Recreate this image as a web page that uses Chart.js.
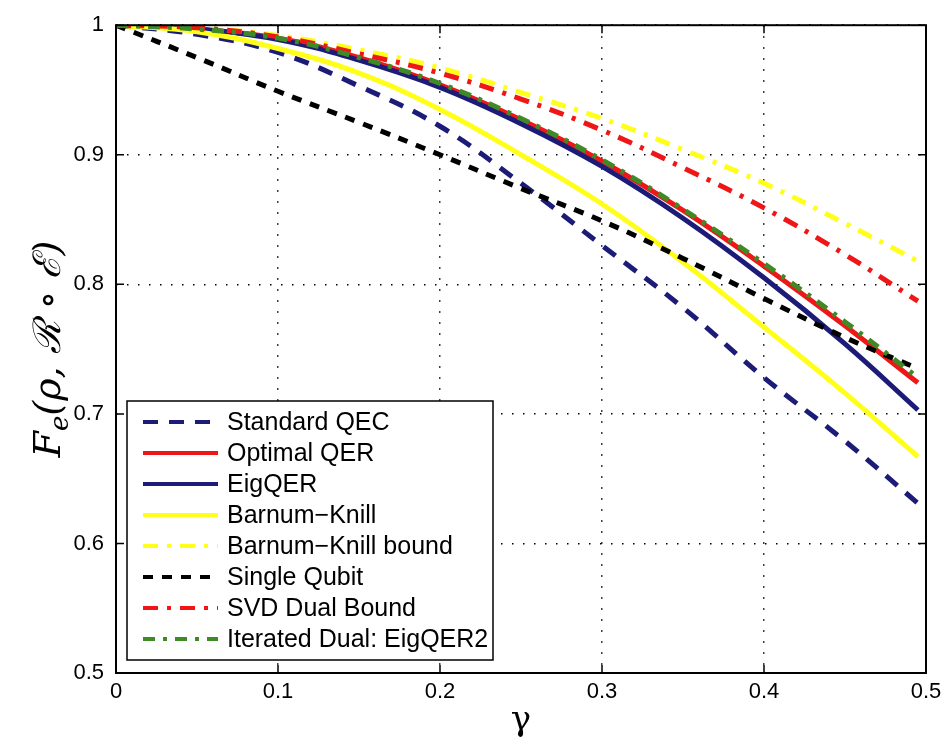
<!DOCTYPE html>
<html>
<head>
<meta charset="utf-8">
<script src="https://cdn.jsdelivr.net/npm/chart.js@4.4.1/dist/chart.umd.min.js"></script>
<style>
  html, body { margin: 0; padding: 0; background: #fff; }
  #wrap { width: 952px; height: 744px; }
</style>
</head>
<body>
<div id="wrap"><canvas id="c" width="952" height="744"></canvas></div>
<script>
// gamma values (x axis)
var gamma = [0, 0.05, 0.1, 0.15, 0.2, 0.25, 0.3, 0.35, 0.4, 0.45, 0.495];

// fidelity per method
var standardQEC   = [1, 0.993, 0.979, 0.953, 0.922, 0.878, 0.830, 0.782, 0.728, 0.679, 0.631];
var optimalQER    = [1, 0.997, 0.990, 0.975, 0.954, 0.927, 0.895, 0.857, 0.814, 0.768, 0.724];
var eigQER        = [1, 0.997, 0.989, 0.973, 0.952, 0.924, 0.891, 0.851, 0.805, 0.754, 0.703];
var barnumKnill   = [1, 0.995, 0.982, 0.963, 0.935, 0.900, 0.862, 0.817, 0.767, 0.716, 0.667];
var bkBound       = [1, 0.998, 0.992, 0.981, 0.967, 0.948, 0.928, 0.904, 0.878, 0.847, 0.818];
var singleQubit   = [1, 0.975, 0.949, 0.925, 0.900, 0.874, 0.849, 0.820, 0.789, 0.759, 0.735];
var svdDual       = [1, 0.998, 0.991, 0.978, 0.963, 0.943, 0.919, 0.890, 0.859, 0.823, 0.787];
var iteratedDual  = [1, 0.997, 0.990, 0.975, 0.955, 0.928, 0.896, 0.858, 0.816, 0.771, 0.728];

var xTicks = [0, 0.1, 0.2, 0.3, 0.4, 0.5];
var yTicks = [0.5, 0.6, 0.7, 0.8, 0.9, 1];

var labels = ['Standard QEC', 'Optimal QER', 'EigQER', 'Barnum\u2212Knill', 'Barnum\u2212Knill bound',
              'Single Qubit', 'SVD Dual Bound', 'Iterated Dual: EigQER2'];
var series = [standardQEC, optimalQER, eigQER, barnumKnill, bkBound, singleQubit, svdDual, iteratedDual];
var colors = ['#1c1c78', '#ee1616', '#1c1c78', '#ffff1a', '#ffff1a', '#000000', '#ee1616', '#3f8a26'];
var dashes = [[15, 11], [], [], [], [15, 9, 4, 9], [10, 9], [15, 9, 4, 9], [12, 8, 4, 8]];

function pts(arr) {
  return arr.map(function (v, i) { return { x: gamma[i], y: v }; });
}

var datasets = series.map(function (s, i) {
  return {
    label: labels[i],
    data: pts(s),
    borderColor: colors[i],
    backgroundColor: colors[i],
    borderWidth: 5,
    borderDash: dashes[i],
    pointRadius: 0,
    fill: false,
    tension: 0.4,
    order: series.length - i   // later series drawn on top, like matlab
  };
});

var LEFT = 116, TOP = 15, RIGHT = 926, BOTTOM = 673;

var frame = {
  id: 'frame',
  afterDraw: function (chart) {
    var ctx = chart.ctx, a = chart.chartArea;
    var xs = chart.scales.x, ys = chart.scales.y;
    ctx.save();
    ctx.strokeStyle = '#000';
    ctx.lineWidth = 1.5;
    // inward ticks
    xTicks.forEach(function (t) {
      var px = xs.getPixelForValue(t);
      ctx.beginPath();
      ctx.moveTo(px, a.bottom); ctx.lineTo(px, a.bottom - 8);
      ctx.moveTo(px, a.top); ctx.lineTo(px, a.top + 8);
      ctx.stroke();
    });
    yTicks.forEach(function (t) {
      var py = ys.getPixelForValue(t);
      ctx.beginPath();
      ctx.moveTo(a.left, py); ctx.lineTo(a.left + 8, py);
      ctx.moveTo(a.right, py); ctx.lineTo(a.right - 8, py);
      ctx.stroke();
    });
    ctx.lineWidth = 2;
    ctx.strokeRect(a.left, a.top, a.right - a.left, a.bottom - a.top);

    // legend box
    var lx = 127, ly = 401, lw = 366, lh = 259;
    ctx.fillStyle = '#fff';
    ctx.fillRect(lx, ly, lw, lh);
    ctx.lineWidth = 1.5;
    ctx.strokeRect(lx, ly, lw, lh);
    ctx.font = '25px "Liberation Sans", Arial, sans-serif';
    ctx.textBaseline = 'middle';
    datasets.forEach(function (d, i) {
      var y = 422 + i * 31;
      ctx.strokeStyle = d.borderColor;
      ctx.lineWidth = 4;
      ctx.setLineDash(d.borderDash);
      ctx.beginPath();
      ctx.moveTo(143, y); ctx.lineTo(218, y);
      ctx.stroke();
      ctx.setLineDash([]);
      ctx.fillStyle = '#000';
      ctx.fillText(d.label, 227, y + 1);
    });

    // axis titles
    ctx.fillStyle = '#000';
    ctx.textBaseline = 'alphabetic';
    ctx.textAlign = 'center';
    ctx.font = '34px "DejaVu Serif", serif';
    ctx.fillText('\u03b3', (a.left + a.right) / 2, 730);

    ctx.translate(60, (a.top + a.bottom) / 2);
    ctx.rotate(-Math.PI / 2);
    ctx.textAlign = 'left';
    var big = 'italic 38px "DejaVu Serif", serif';
    var small = 'italic 26px "DejaVu Serif", serif';
    var parts = [['F', big, 0], ['e', small, 8], ['(\u03c1, \u211b \u2218 \u2130)', big, 0]];
    var total = 0;
    parts.forEach(function (p) { ctx.font = p[1]; total += ctx.measureText(p[0]).width; });
    var x = -total / 2;
    parts.forEach(function (p) {
      ctx.font = p[1];
      ctx.fillText(p[0], x, p[2]);
      x += ctx.measureText(p[0]).width;
    });
    ctx.restore();
  }
};

var bg = {
  id: 'bg',
  beforeDraw: function (chart) {
    var ctx = chart.ctx;
    ctx.save();
    ctx.fillStyle = '#fff';
    ctx.fillRect(0, 0, chart.width, chart.height);
    ctx.restore();
  }
};

function fmt(v) { return String(Number(v.toFixed(1))); }

new Chart(document.getElementById('c'), {
  type: 'line',
  data: { datasets: datasets },
  options: {
    responsive: false,
    animation: false,
    devicePixelRatio: 1,
    layout: { padding: { top: TOP, right: 952 - RIGHT, left: 0, bottom: 0 } },
    plugins: { legend: { display: false }, tooltip: { enabled: false } },
    scales: {
      x: {
        type: 'linear', min: 0, max: 0.5,
        afterFit: function (s) { s.height = 744 - BOTTOM; },
        afterBuildTicks: function (s) { s.ticks = xTicks.map(function (v) { return { value: v }; }); },
        ticks: { color: '#000', padding: 6, maxRotation: 0,
                 font: { family: '"Liberation Sans", Arial, sans-serif', size: 22 },
                 callback: fmt },
        grid: { color: '#000', lineWidth: 1.5, drawTicks: false },
        border: { display: false, dash: [1.5, 9.5] }
      },
      y: {
        type: 'linear', min: 0.5, max: 1,
        afterFit: function (s) { s.width = LEFT; },
        afterBuildTicks: function (s) { s.ticks = yTicks.map(function (v) { return { value: v }; }); },
        ticks: { color: '#000', padding: 12,
                 font: { family: '"Liberation Sans", Arial, sans-serif', size: 22 },
                 callback: fmt },
        grid: { color: '#000', lineWidth: 1.5, drawTicks: false },
        border: { display: false, dash: [1.5, 9.5] }
      }
    }
  },
  plugins: [bg, frame]
});
</script>
</body>
</html>
